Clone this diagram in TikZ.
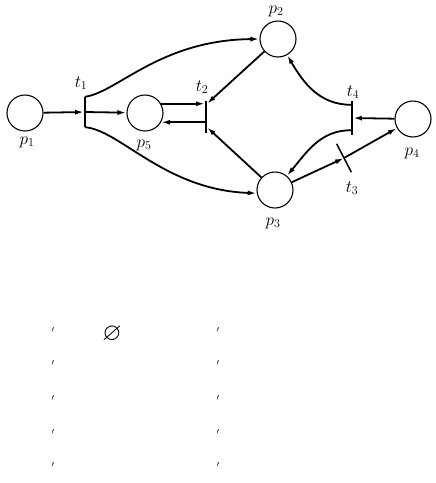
\documentclass[tikz,border=0pt]{standalone}
\usepackage{amsmath,amssymb}
\usetikzlibrary{arrows.meta, calc}

\begin{document}
\begin{tikzpicture}[
    x=1pt, y=-1pt,
    >={Latex[length=9pt,width=5pt]},
    place/.style={circle, draw=black, line width=1.1pt, minimum size=36pt, inner sep=0pt},
    transition/.style={rectangle, fill=black, minimum width=1.5pt, minimum height=32pt, inner sep=0pt},
    flow/.style={->, line width=1.8pt},
    lbl/.style={font=\LARGE},
    primemark/.style={font=\small, inner sep=0pt}
]
\useasboundingbox (0,0) rectangle (436,483);

% Places
\node[place] (p1) at (25,113)  {};
\node[place] (p5) at (145,113) {};
\node[place] (p2) at (278,39)  {};
\node[place] (p3) at (275,190) {};
\node[place] (p4) at (413,119) {};

% Transitions
\node[transition, minimum height=30pt] (t1) at (85,112) {};
\node[transition] (t2) at (206,117) {};
\node[transition, minimum height=34pt] (t4) at (352,118) {};
\node[transition, rotate=27.4] (t3) at (344,158) {};

% Labels
\node[lbl] (lp1) at (27,142)  {$p_1$};
\node[lbl] (lp2) at (276,11)  {$p_2$};
\node[lbl] (lp3) at (273,223) {$p_3$};
\node[lbl] (lp4) at (412,153) {$p_4$};
\node[lbl] (lp5) at (144,145) {$p_5$};
\node[lbl] (lt1) at (81,83)   {$t_1$};
\node[lbl] (lt2) at (202,87)  {$t_2$};
\node[lbl] (lt3) at (352,188) {$t_3$};
\node[lbl] (lt4) at (353,92)  {$t_4$};

% Arcs around t1
\draw[flow] (p1) -- (t1);
\draw[flow] (t1) -- (p5);
\draw[flow] (t1.north) .. controls (118,92) and (160,40) .. (p2.west);
\draw[flow] (t1.south) .. controls (120,130) and (165,190) .. (p3.190);

% Arcs around t2
\draw[flow] (p5.30) -- (p5.30 -| t2.west);
\draw[flow] (t2.west |- p5.-30) -- (p5.-30);
\draw[flow] (p2) -- ([yshift=-3pt]t2.north east);
\draw[flow] (p3) -- ([yshift=6pt]t2.south east);

% Arcs around t3 and t4
\draw[flow] (p3) -- (t3.center);
\draw[flow] (t3.center) -- (p4);
\draw[flow] (p4) -- (t4);
\draw[flow] ([yshift=-4pt]t4.north west) to[out=180, in=-60] (p2.-60);
\draw[flow] ([yshift=5pt]t4.south west) to[out=180, in=50] (p3.50);

% Table marks below
\foreach \y [count=\i] in {330,363,398,432,465} {
    \node[primemark] (ma\i) at (53,\y)  {$\prime$};
    \node[primemark] (mb\i) at (218,\y) {$\prime$};
}
\node[font=\Huge] (empty) at (112,334) {$\varnothing$};

\end{tikzpicture}
\end{document}
